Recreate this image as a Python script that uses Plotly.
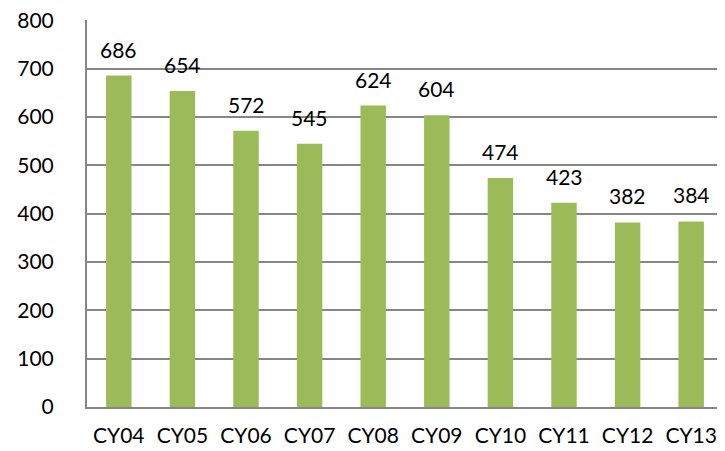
import plotly.graph_objects as go

categories = ['CY04', 'CY05', 'CY06', 'CY07', 'CY08', 'CY09', 'CY10', 'CY11', 'CY12', 'CY13']
values = [686, 654, 572, 545, 624, 604, 474, 423, 382, 384]

fig = go.Figure(go.Bar(
    x=categories, y=values,
    marker=dict(color='#9BBB59', line=dict(width=0)),
    cliponaxis=False,
))

# value labels above each bar
for c, v in zip(categories, values):
    fig.add_annotation(x=c, y=v, text=str(v), showarrow=False,
                       yanchor='bottom', yshift=12,
                       font=dict(size=21, color='#000000'))

fig.update_layout(
    width=725, height=451,
    margin=dict(l=79, r=10, t=12, b=52),
    paper_bgcolor='white', plot_bgcolor='white',
    font=dict(family='Lato, Open Sans, sans-serif', size=21, color='#000000'),
    bargap=0.6,
    showlegend=False,
)
fig.update_xaxes(showline=True, linecolor='#868686', linewidth=2, ticks='',
                 tickfont=dict(size=21), showgrid=False, automargin=False,
                 ticklabelstandoff=9)
fig.update_yaxes(range=[0, 801], tickvals=[0, 100, 200, 300, 400, 500, 600, 700, 800],
                 showgrid=True, gridcolor='#868686', gridwidth=1.5,
                 showline=True, linecolor='#868686', linewidth=2, ticks='',
                 tickfont=dict(size=21), zeroline=False, automargin=False,
                 ticklabelstandoff=27, ticklabeloverflow='allow')

fig.write_html('out.html')
